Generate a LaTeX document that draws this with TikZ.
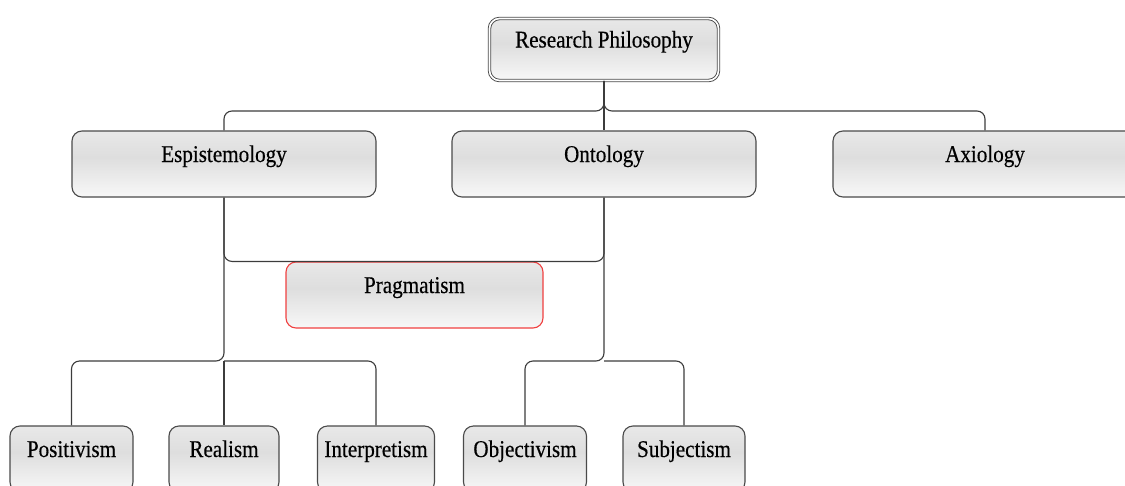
\documentclass[tikz,border=0pt]{standalone}
\usepackage{fontspec}
\setmainfont{Liberation Serif}[FakeStretch=0.88,FakeBold=0.35]
\definecolor{boxline}{HTML}{4A4A4A}
\definecolor{linkline}{HTML}{3C3C3C}
\definecolor{redline}{HTML}{F04040}
% vertical gradient of the boxes (given from bottom to top)
\pgfdeclareverticalshading{boxshade}{100bp}{%
  color(0bp)=(white!99!black); color(25bp)=(white!97!black);
  color(55bp)=(white!87!black); color(75bp)=(white!91!black);
  color(100bp)=(white!97!black)}
\begin{document}
\begin{tikzpicture}[x=1pt,y=-1pt,
  box/.style={rounded corners=10pt, draw=boxline, line width=1.1pt,
    shading=boxshade,
    inner xsep=0pt, inner ysep=0pt, text height=31pt, text depth=35pt,
    minimum width=#1, font=\fontsize{24}{28}\selectfont},
  rootbox/.style={box=229pt, text height=29pt, text depth=33pt,
    double=white, double distance=1.6pt, line width=0.9pt},
  redbox/.style={box=#1, draw=redline},
  link/.style={draw=linkline, line width=1.1pt, rounded corners=8pt}]
\useasboundingbox (0,0) rectangle (1125,485);
\clip (0,0) rectangle (1125,485);

% root and first level
\node[rootbox] (rp) at (604,49.5) {Research Philosophy};
\node[box=304pt] (ep) at (224,164) {Espistemology};
\node[box=304pt] (on) at (604,164) {Ontology};
\node[box=304pt] (ax) at (985,164) {Axiology};

% middle node
\node[redbox=257pt] (pr) at (414.5,295) {Pragmatism};

% bottom level
\node[box=123pt] (po) at (71.5,459) {Positivism};
\node[box=110pt] (re) at (224,459) {Realism};
\node[box=117pt] (ip) at (376,459) {Interpretism};
\node[box=123pt] (ob) at (525,459) {Objectivism};
\node[box=122pt] (sb) at (684,459) {Subjectism};

% junction points
\coordinate (fork) at (604,111);
\coordinate (jl) at (224,361);
\coordinate (jr) at (604,361);

% root to first level
\draw[link] (rp.south) -- (fork) -| (ep.north);
\draw[link] (rp.south) -- (fork) -| (ax.north);
\draw[link] (rp.south) -- (on.north);

% bracket over Pragmatism
\draw[link] (ep.south) -- (ep.south |- pr.north) -- (on.south |- pr.north) -- (on.south);

% Espistemology branches
\draw[link] (ep.south) -- (jl) -| (po.north);
\draw[link] (jl) -| (ip.north);
\draw[link] (jl) -- (re.north);

% Ontology branches
\draw[link] (on.south) -- (jr) -| (ob.north);
\draw[link] (jr) -| (sb.north);
\end{tikzpicture}
\end{document}
